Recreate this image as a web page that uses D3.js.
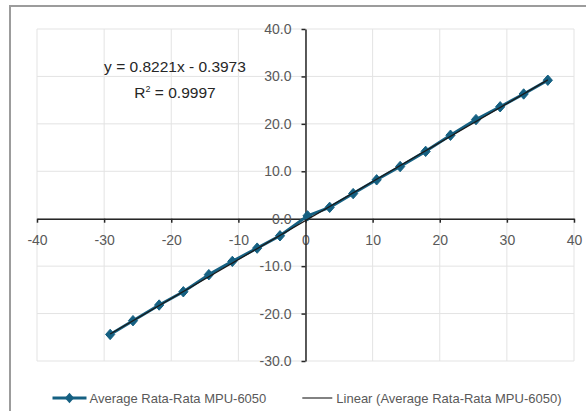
<!DOCTYPE html>
<html>
<head>
<meta charset="utf-8">
<script src="https://cdn.jsdelivr.net/npm/d3@7"></script>
<style>
  body { margin: 0; background: #fff; }
  svg text { font-family: "Liberation Sans", Arial, sans-serif; }
  .grid line { stroke: #e3e3e3; stroke-width: 1; }
  .axis path, .axis line { stroke: #262626; stroke-width: 1.5; }
  .axis text { fill: #595959; font-size: 14px; }
</style>
</head>
<body>
<div id="chart"></div>
<script>
// data
var xValues = [-29.1, -25.7, -21.8, -18.2, -14.4, -10.9, -7.2, -3.8, 0.3, 3.6, 7.1, 10.6, 14.1, 17.9, 21.6, 25.4, 29.0, 32.5, 36.1];
var yValues = [-24.4, -21.5, -18.2, -15.4, -11.8, -9.0, -6.2, -3.6, 0.6, 2.4, 5.3, 8.2, 11.0, 14.2, 17.6, 20.9, 23.6, 26.3, 29.2];
var xTicks = [-40, -30, -20, -10, 0, 10, 20, 30, 40];
var yTicks = [-30, -20, -10, 0, 10, 20, 30, 40];
var seriesName = "Average Rata-Rata MPU-6050";
var trendName = "Linear (Average Rata-Rata MPU-6050)";
var slope = 0.8221, intercept = -0.3973, rSquared = "0.9997";

var width = 586, height = 411;
var seriesColor = "#156082";

var svg = d3.select("#chart").append("svg")
    .attr("width", width)
    .attr("height", height);

// chart frame
svg.append("rect")
    .attr("x", 10).attr("y", 6)
    .attr("width", 620).attr("height", 440)
    .attr("fill", "#fff")
    .attr("stroke", "#9c9c9c")
    .attr("stroke-width", 2);

// scales
var x = d3.scaleLinear().domain([-40, 40]).range([37, 574]);
var y = d3.scaleLinear().domain([-30, 40]).range([361, 29]);

// gridlines
var grid = svg.append("g").attr("class", "grid");
grid.selectAll(".v").data(xTicks).enter().append("line")
    .attr("x1", function(d) { return x(d); })
    .attr("x2", function(d) { return x(d); })
    .attr("y1", y(40)).attr("y2", y(-30));
grid.selectAll(".h").data(yTicks).enter().append("line")
    .attr("y1", function(d) { return y(d); })
    .attr("y2", function(d) { return y(d); })
    .attr("x1", x(-40)).attr("x2", x(40));

// axes cross at zero
var xAxis = d3.axisBottom(x)
    .tickValues(xTicks)
    .tickSize(4).tickSizeOuter(0)
    .tickPadding(12)
    .tickFormat(function(d) { return String(d); });
var yAxis = d3.axisLeft(y)
    .tickValues(yTicks)
    .tickSize(4).tickSizeOuter(0)
    .tickPadding(10)
    .tickFormat(function(d) { return d.toFixed(1); });

svg.append("g")
    .attr("class", "axis x-axis")
    .attr("transform", "translate(0," + y(0) + ")")
    .call(xAxis);
svg.append("g")
    .attr("class", "axis y-axis")
    .attr("transform", "translate(" + x(0) + ",0)")
    .call(yAxis);

// diamond marker
var diamond = {
    draw: function(ctx, size) {
        var w = 4.6, h = 5.2;
        ctx.moveTo(0, -h);
        ctx.lineTo(w, 0);
        ctx.lineTo(0, h);
        ctx.lineTo(-w, 0);
        ctx.closePath();
    }
};

var points = xValues.map(function(d, i) { return {x: d, y: yValues[i]}; });

var line = d3.line()
    .x(function(d) { return x(d.x); })
    .y(function(d) { return y(d.y); });

svg.append("path")
    .datum(points)
    .attr("d", line)
    .attr("fill", "none")
    .attr("stroke", seriesColor)
    .attr("stroke-width", 3)
    .attr("stroke-linejoin", "round");

svg.selectAll(".marker").data(points).enter().append("path")
    .attr("class", "marker")
    .attr("d", d3.symbol().type(diamond))
    .attr("transform", function(d) { return "translate(" + x(d.x) + "," + y(d.y) + ")"; })
    .attr("fill", seriesColor)
    .attr("stroke", seriesColor)
    .attr("stroke-width", 1);

// linear trendline over the data range
var xMin = d3.min(xValues), xMax = d3.max(xValues);
svg.append("line")
    .attr("x1", x(xMin)).attr("y1", y(slope * xMin + intercept))
    .attr("x2", x(xMax)).attr("y2", y(slope * xMax + intercept))
    .attr("stroke", "#1a1a1a")
    .attr("stroke-width", 1.3);

// equation label
var eq = svg.append("g").attr("fill", "#262626").style("font-size", "15.5px");
eq.append("text")
    .attr("x", 175).attr("y", 67).attr("dy", "0.35em")
    .attr("text-anchor", "middle")
    .text("y = " + slope + "x - " + Math.abs(intercept));
var r2 = eq.append("text")
    .attr("x", 175).attr("y", 93).attr("dy", "0.35em")
    .attr("text-anchor", "middle");
r2.append("tspan").text("R");
r2.append("tspan").attr("dy", -6).style("font-size", "9px").text("2");
r2.append("tspan").attr("dy", 6).text(" = " + rSquared);

// legend
var legend = svg.append("g").attr("transform", "translate(0,398)");
var item1 = legend.append("g");
item1.append("line")
    .attr("x1", 0).attr("x2", 34)
    .attr("stroke", seriesColor).attr("stroke-width", 3);
item1.append("path")
    .attr("d", d3.symbol().type(diamond))
    .attr("transform", "translate(17,0)")
    .attr("fill", seriesColor);
var t1 = item1.append("text")
    .attr("x", 37).attr("dy", "0.35em")
    .attr("fill", "#595959").style("font-size", "13px")
    .text(seriesName);

var item2 = legend.append("g");
item2.append("line")
    .attr("x1", 0).attr("x2", 30)
    .attr("stroke", "#595959").attr("stroke-width", 1.5);
var t2 = item2.append("text")
    .attr("x", 34).attr("dy", "0.35em")
    .attr("fill", "#595959").style("font-size", "13px")
    .text(trendName);

var w1 = 37 + t1.node().getComputedTextLength();
var w2 = 34 + t2.node().getComputedTextLength();
var gap = 36;
var start = 307 - (w1 + gap + w2) / 2;
item1.attr("transform", "translate(" + start + ",0)");
item2.attr("transform", "translate(" + (start + w1 + gap) + ",0)");
</script>
</body>
</html>
